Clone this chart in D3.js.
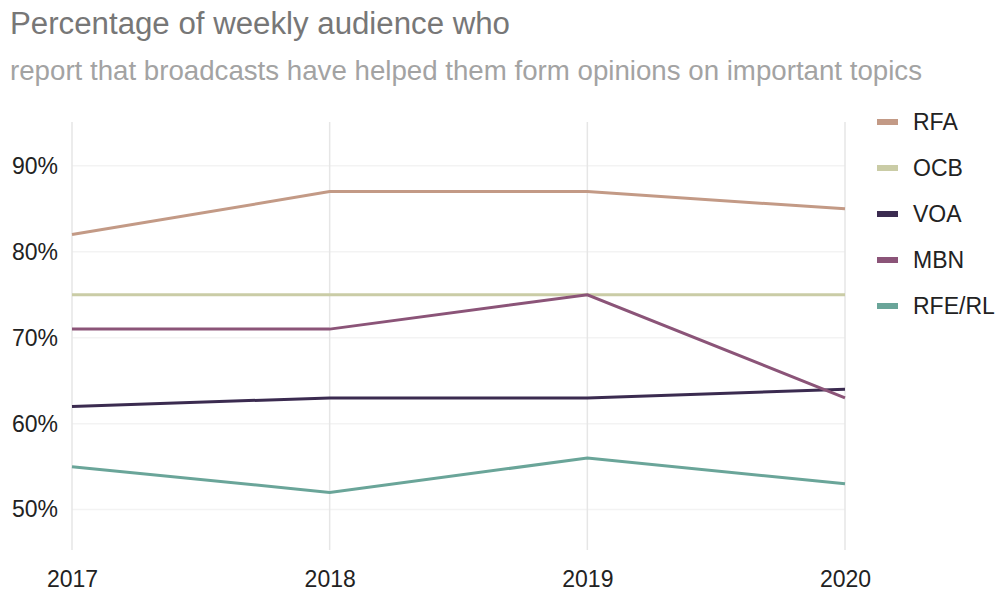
<!DOCTYPE html>
<html><head><meta charset="utf-8">
<script src="https://cdn.jsdelivr.net/npm/d3@7"></script>
<style>body{margin:0;background:#fff;}svg{display:block;font-family:"Liberation Sans",Arial,sans-serif;}</style>
</head><body>
<script>
const years = [2017, 2018, 2019, 2020];
const seriesNames = ["RFA", "OCB", "VOA", "MBN", "RFE/RL"];
const rfa = [82, 87, 87, 85];
const ocb = [75, 75, 75, 75];
const voa = [62, 63, 63, 64];
const mbn = [71, 71, 75, 63];
const rferl = [55, 52, 56, 53];
const colors = ["#c39a86", "#cacca6", "#3b2b50", "#8b5478", "#6aa599"];
const yTicks = [50, 60, 70, 80, 90];
const title = "Percentage of weekly audience who";
const subtitle = "report that broadcasts have helped them form opinions on important topics";

const values = [rfa, ocb, voa, mbn, rferl];
const W = 1001, H = 593;
const FONT = "'Liberation Sans', Arial, sans-serif";
const svg = d3.select("body").append("svg").attr("width", W).attr("height", H);

const x = d3.scalePoint().domain(years).range([72, 845]);
const y = d3.scaleLinear().domain([45.3, 95.1]).range([550, 122]);

svg.append("text").attr("x", 10).attr("y", 34).attr("font-size", 31).attr("font-family", FONT)
  .attr("fill", "#777").attr("textLength", 500).attr("lengthAdjust", "spacingAndGlyphs").text(title);
svg.append("text").attr("x", 10).attr("y", 80).attr("font-size", 27.5).attr("font-family", FONT)
  .attr("fill", "#a3a3a3").attr("textLength", 912).attr("lengthAdjust", "spacingAndGlyphs").text(subtitle);

// horizontal grid
svg.append("g").selectAll("line").data(yTicks).join("line")
  .attr("x1", 72).attr("x2", 845).attr("y1", d => y(d)).attr("y2", d => y(d))
  .attr("stroke", "#f3f3f3").attr("stroke-width", 1.5);
// vertical grid
svg.append("g").selectAll("line").data(years).join("line")
  .attr("x1", d => x(d)).attr("x2", d => x(d)).attr("y1", y.range()[1]).attr("y2", y.range()[0])
  .attr("stroke", "#e6e6e6").attr("stroke-width", 1.5);

// y axis labels
const yAxis = d3.axisLeft(y).tickValues(yTicks).tickFormat(d => d + "%").tickSize(0).tickPadding(14);
const gy = svg.append("g").attr("transform", "translate(72,0)").call(yAxis);
gy.select(".domain").remove();
gy.selectAll("text").attr("font-size", 23).attr("fill", "#222").attr("font-family", FONT);

// x axis labels
const xAxis = d3.axisBottom(x).tickSize(0).tickPadding(0).tickFormat(d3.format("d"));
const gx = svg.append("g").attr("transform", "translate(0,587)").call(xAxis);
gx.select(".domain").remove();
gx.selectAll("text").attr("font-size", 23).attr("fill", "#222").attr("font-family", FONT).attr("dy", "0");

// lines
const line = d3.line().x((d, i) => x(years[i])).y(d => y(d));
svg.append("g").selectAll("path").data(values).join("path")
  .attr("d", d => line(d)).attr("fill", "none")
  .attr("stroke", (d, i) => colors[i]).attr("stroke-width", 3);

// legend
const lg = svg.append("g").selectAll("g").data(seriesNames).join("g")
  .attr("transform", (d, i) => `translate(877,${122 + i * 46})`);
lg.append("rect").attr("x", 0).attr("y", -3).attr("width", 21).attr("height", 6).attr("fill", (d, i) => colors[i]);
lg.append("text").attr("x", 36).attr("y", 0).attr("dy", "0.36em").attr("font-size", 23).attr("font-family", FONT)
  .attr("fill", "#222").text(d => d);
</script>
</body></html>
